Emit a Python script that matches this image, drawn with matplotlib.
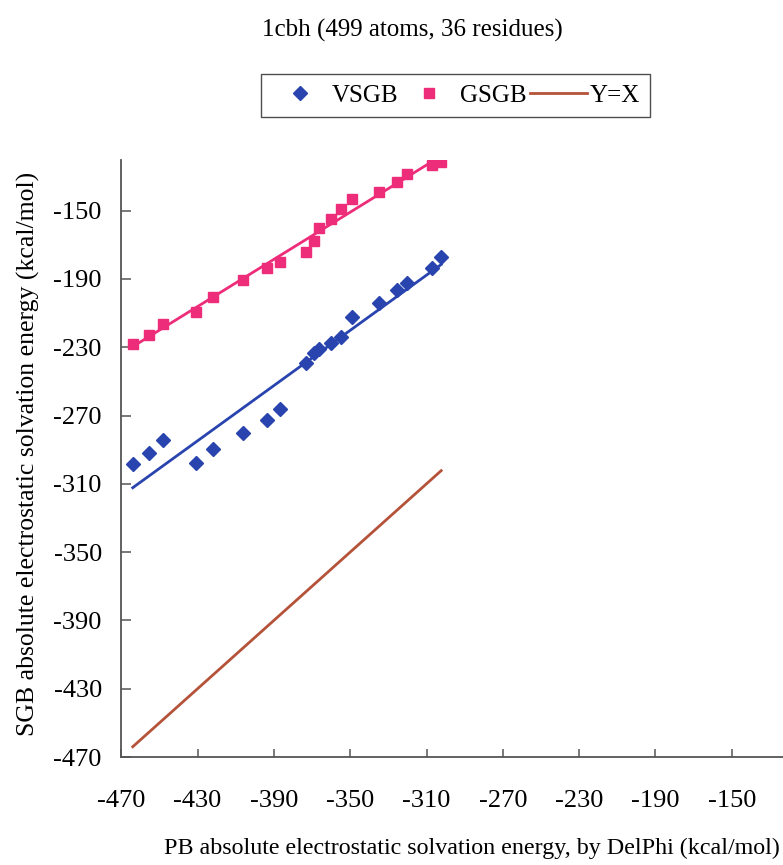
import numpy as np
import matplotlib
matplotlib.use("Agg")
import matplotlib.pyplot as plt
from matplotlib.lines import Line2D

# ---- data ----
pb_energy = [-464.0, -455.3, -448.2, -431.0, -421.8, -406.0, -393.5, -386.8, -373.0,
             -369.0, -366.5, -360.0, -355.0, -349.0, -335.0, -325.6, -320.0, -307.0, -302.3]
vsgb = [-298.6, -291.8, -284.3, -298.0, -289.6, -280.1, -272.6, -266.2, -239.0,
        -233.5, -231.0, -227.7, -223.8, -212.5, -203.9, -196.5, -192.2, -183.8, -177.0]
gsgb = [-228.1, -222.9, -216.4, -209.2, -200.4, -190.6, -183.8, -179.9, -174.5,
        -168.0, -160.0, -154.8, -149.2, -143.0, -138.9, -133.1, -128.5, -123.3, -121.6]
tick_values = [-470, -430, -390, -350, -310, -270, -230, -190, -150]

title = "1cbh (499 atoms, 36 residues)"
xlabel = "PB absolute electrostatic solvation energy, by DelPhi (kcal/mol)"
ylabel = "SGB absolute electrostatic solvation energy (kcal/mol)"

BLUE = "#2944ae"
PINK = "#ee2d7a"
BROWN = "#b5533a"

plt.rcParams['font.family'] = ['Liberation Serif', 'DejaVu Serif']

W, H = 783, 865
fig = plt.figure(figsize=(W / 100, H / 100), dpi=100)
ax_l, ax_b, ax_r, ax_t = 121.3, 757.0, 783.0, 160.0
ax = fig.add_axes([ax_l / W, 1 - ax_b / H, (ax_r - ax_l) / W, (ax_b - ax_t) / H])

x = np.array(pb_energy)
yv = np.array(vsgb)
yg = np.array(gsgb)

xs = np.array([x.min(), x.max()])
for yy, col in ((yv, BLUE), (yg, PINK)):
    k, b = np.polyfit(x, yy, 1)
    ax.plot(xs, k * xs + b, color=col, lw=2.0, zorder=2)
ax.plot(xs, xs, color=BROWN, lw=2.0, zorder=2)

ax.plot(x, yv, linestyle='none', marker='D', ms=6.8, color=BLUE, mec=BLUE, zorder=3)
ax.plot(x, yg, linestyle='none', marker='s', ms=7.2, color=PINK, mec=PINK, zorder=3)

ax.set_xlim(-470, -470 + (ax_r - ax_l) / 1.9075)
ax.set_ylim(-470, -470 + (ax_b - ax_t) / 1.7075)
ax.set_xticks(tick_values)
ax.set_yticks(tick_values)
ax.set_xticklabels([str(v) for v in tick_values])
ax.set_yticklabels([str(v) for v in tick_values])

for s in ('top', 'right'):
    ax.spines[s].set_visible(False)
for s in ('left', 'bottom'):
    ax.spines[s].set_color('#555555')
    ax.spines[s].set_linewidth(1.3)

ax.tick_params(axis='x', direction='in', length=6, width=1.1, color='#555555',
               labelsize=19, pad=24)
ax.tick_params(axis='y', direction='in', length=7, width=1.1, color='#555555',
               labelsize=19, pad=14)

ax.set_xlabel(xlabel, fontsize=17.3)
ax.xaxis.set_label_coords((472 - ax_l) / (ax_r - ax_l), (ax_b - 848) / (ax_b - ax_t))
ax.xaxis.label.set_va('center')
ax.set_ylabel(ylabel, fontsize=18.5)
ax.yaxis.set_label_coords((28 - ax_l) / (ax_r - ax_l), (ax_b - 454) / (ax_b - ax_t))
ax.yaxis.label.set_va('center')

fig.text(412 / W, 1 - 30 / H, title, fontsize=18, ha='center', va='center')

handles = [
    Line2D([], [], linestyle='none', marker='D', ms=6.8, color=BLUE),
    Line2D([], [], linestyle='none', marker='s', ms=7.2, color=PINK),
    Line2D([], [], color=BROWN, lw=2.0),
]
leg = fig.legend(handles, ['VSGB', 'GSGB', 'Y=X'], loc='center',
                 bbox_to_anchor=(455.5 / W, 1 - 95.5 / H), ncol=3,
                 fontsize=18, frameon=True, fancybox=False, edgecolor='#222222',
                 handlelength=2.3, handletextpad=0.1, columnspacing=0.1,
                 borderpad=0.42, borderaxespad=0)
leg.get_frame().set_linewidth(1.0)

fig.savefig("out.png", dpi=100)
